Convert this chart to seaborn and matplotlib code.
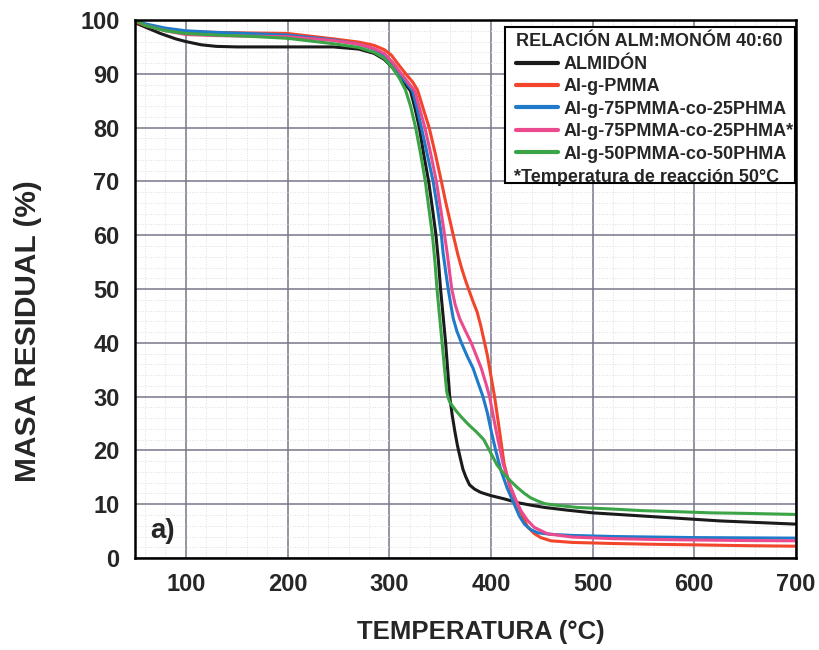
import numpy as np
import pandas as pd
import matplotlib
matplotlib.use("Agg")
import matplotlib.pyplot as plt
import seaborn as sns
from matplotlib.lines import Line2D
from matplotlib.patches import Rectangle
from matplotlib.ticker import MultipleLocator

series_names = ["ALMIDÓN", "Al-g-PMMA", "Al-g-75PMMA-co-25PHMA",
                "Al-g-75PMMA-co-25PHMA*", "Al-g-50PMMA-co-50PHMA"]
colors = ["#1a1a1a", "#f2452b", "#1f7bc9", "#ec4a8f", "#3aa447"]

# ALMIDÓN
t_alm = [50, 60, 75, 90, 100, 115, 130, 150, 200, 245, 270, 285, 295, 303, 310, 316, 321, 325.5, 329.6, 334,
         338.8, 342.5, 346, 348.5, 350.5, 353, 355.5, 357.5, 359.5, 362, 364.5, 367, 370, 372.5, 375.5, 379,
         384, 390, 400, 413, 426, 440, 453, 475, 500, 525, 550, 575, 600, 625, 650, 675, 700]
m_alm = [99.5, 98.7, 97.5, 96.5, 96.0, 95.4, 95.1, 95.0, 95.0, 95.0, 94.6, 93.8, 92.7, 91.2, 89.5, 88.0, 86.8,
         83.5, 80, 75, 70, 65, 60, 55, 50, 45, 40, 35, 30, 26.5, 23.6, 21.0, 18.5, 16.5, 15.0, 13.6, 12.8, 12.2,
         11.6, 11.0, 10.3, 9.8, 9.4, 8.9, 8.4, 8.1, 7.8, 7.5, 7.2, 6.9, 6.7, 6.5, 6.3]

# Al-g-PMMA
t_pmma = [50, 60, 80, 100, 130, 160, 200, 245, 270, 285, 295, 302, 310, 318, 323, 327.8, 333.5, 339.3, 345.5,
          351.3, 355.5, 359.5, 363, 367.5, 371, 374.5, 378, 382, 386.5, 390, 393.8, 396.5, 398.7, 403.6, 408.5,
          413, 419, 426, 431, 436, 443, 449, 459, 480, 520, 560, 600, 650, 700]
m_pmma = [99.7, 99.0, 98.3, 97.8, 97.7, 97.6, 97.5, 96.5, 95.9, 95.3, 94.5, 93.5, 91.5, 89.6, 88.5, 87.0, 83.5,
          80, 75, 70, 66.2, 62.9, 60, 56.4, 54.0, 51.9, 50, 47.9, 45.7, 43.2, 40, 37.7, 35.3, 30, 23.6, 17.5,
          13.0, 10.0, 7.8, 5.8, 4.5, 3.8, 3.2, 2.9, 2.7, 2.55, 2.45, 2.3, 2.2]

# Al-g-75PMMA-co-25PHMA
t_75 = [50, 60, 80, 100, 130, 160, 200, 245, 270, 285, 295, 303, 310, 317, 323, 327.5, 331.7, 337.5, 343.2,
        347.5, 351.3, 353, 355.5, 358, 360.5, 363, 366.5, 371, 376.5, 382.4, 387, 392.2, 396.5, 400.3, 405, 410,
        416, 423, 428, 433, 439, 446, 459, 480, 520, 560, 600, 650, 700]
m_75 = [100, 99.3, 98.5, 98.0, 97.7, 97.5, 97.2, 96.3, 95.5, 94.6, 93.5, 91.8, 90.0, 88.3, 86.8, 83.5, 80, 75,
        70, 65, 60, 56.7, 53.3, 50, 47.2, 44.5, 42.2, 40, 37.6, 35.3, 32.8, 30, 27, 23.6, 19.8, 16.2, 13.0, 10.0,
        7.8, 6.3, 5.3, 4.7, 4.4, 4.2, 4.0, 3.9, 3.8, 3.75, 3.7]

# Al-g-75PMMA-co-25PHMA*
t_75s = [50, 60, 80, 100, 130, 160, 200, 245, 270, 285, 295, 304, 312, 319, 325.3, 330, 335.1, 341, 346.4,
         350.5, 354.5, 357, 361.5, 365, 369.3, 375, 380.7, 385.5, 390.5, 395, 398.7, 405.2, 412, 419.7, 424.5,
         429.5, 436, 442.6, 455.7, 480, 520, 560, 600, 650, 700]
m_75s = [100, 99.0, 98.0, 97.3, 97.1, 97.0, 96.9, 96.2, 95.5, 94.7, 93.8, 92.0, 90.0, 88.3, 86.8, 83.5, 80, 75,
         70, 65, 60, 56.7, 50, 47, 44.5, 42.2, 40, 37.7, 35.3, 32.5, 30, 23.6, 17.5, 13.1, 10.8, 8.8, 7.0, 5.7,
         4.5, 3.9, 3.6, 3.45, 3.35, 3.25, 3.2]

# Al-g-50PMMA-co-50PHMA
t_50 = [50, 60, 80, 100, 130, 160, 200, 245, 270, 285, 295, 303, 310, 316, 321, 326, 331, 335.5, 339, 342.5,
        345, 347, 349.5, 352, 354.5, 356.5, 358, 359.5, 362, 366, 371, 378, 386, 393, 400, 406, 413, 420, 426,
        433, 439, 446, 453, 465, 485, 520, 550, 585, 616, 650, 700]
m_50 = [100, 99.0, 98.0, 97.5, 97.2, 97.0, 96.6, 95.6, 94.9, 94.0, 92.9, 91.2, 89.2, 87.0, 84.0, 80, 75, 70, 65,
        60, 55, 50, 45, 40, 35, 31, 29.8, 29.0, 28.3, 27.3, 26.2, 24.8, 23.4, 22.0, 19.5, 17.3, 15.6, 14.2, 13.1,
        12.0, 11.2, 10.6, 10.1, 9.8, 9.4, 9.1, 8.8, 8.6, 8.4, 8.3, 8.1]

x_ticks = [100, 200, 300, 400, 500, 600, 700]
y_ticks = [0, 10, 20, 30, 40, 50, 60, 70, 80, 90, 100]

temps = [t_alm, t_pmma, t_75, t_75s, t_50]
masses = [m_alm, m_pmma, m_75, m_75s, m_50]
df = pd.concat([pd.DataFrame({"T": t, "m": m, "serie": n})
                for t, m, n in zip(temps, masses, series_names)], ignore_index=True)

sns.set_style("white")
plt.rcParams['font.family'] = ['Liberation Sans', 'DejaVu Sans']
plt.rcParams['font.weight'] = 'bold'
plt.rcParams['axes.labelweight'] = 'bold'

fig = plt.figure(figsize=(8.2, 6.5), dpi=100)
ax = fig.add_axes([0.1646, 0.1415, 0.8061, 0.8277])

sns.lineplot(data=df, x="T", y="m", hue="serie", hue_order=series_names,
             palette=colors, estimator=None, sort=False, lw=2.2, legend=False, ax=ax)

ax.set_xlim(50, 700)
ax.set_ylim(0, 100)
ax.set_xticks(x_ticks)
ax.set_yticks(y_ticks)
ax.xaxis.set_minor_locator(MultipleLocator(20))
ax.yaxis.set_minor_locator(MultipleLocator(2))
ax.set_axisbelow(True)
ax.grid(which='major', color='#77778a', lw=1.1)
ax.grid(which='minor', color='#e6d9e2', lw=0.7, ls=':')
for s in ax.spines.values():
    s.set_color('black')
    s.set_linewidth(1.8)
ax.tick_params(which='major', direction='out', length=7, width=1.8, labelsize=17, pad=4, color='black')
ax.tick_params(which='minor', direction='out', length=4, width=1.4, color='black')

ax.set_xlabel("TEMPERATURA (°C)", fontsize=18.5)
ax.set_ylabel("MASA RESIDUAL (%)", fontsize=21.5)
ax.xaxis.set_label_coords(0.523, -0.115)
ax.yaxis.set_label_coords(-0.141, 0.422)

ax.add_patch(Rectangle((0.560, 0.697), 0.438, 0.290, transform=ax.transAxes,
                       facecolor='white', edgecolor='black', lw=1.5, zorder=5))
handles = [Line2D([0], [0], color=c, lw=3) for c in colors]
leg = ax.legend(handles, series_names, title="RELACIÓN ALM:MONÓM 40:60", loc='upper left',
                bbox_to_anchor=(0.577, 0.975), frameon=False, fontsize=13, title_fontsize=13,
                handlelength=2.3, handletextpad=0.3, labelspacing=0.3, borderpad=0,
                borderaxespad=0, alignment='left')
leg.set_zorder(6)
ax.text(0.574, 0.707, "*Temperatura de reacción 50°C", transform=ax.transAxes, fontsize=13,
        va='center', ha='left', zorder=7)
ax.text(0.041, 0.05, "a)", transform=ax.transAxes, fontsize=20, va='center', ha='center')

fig.savefig("out.png", dpi=100)
